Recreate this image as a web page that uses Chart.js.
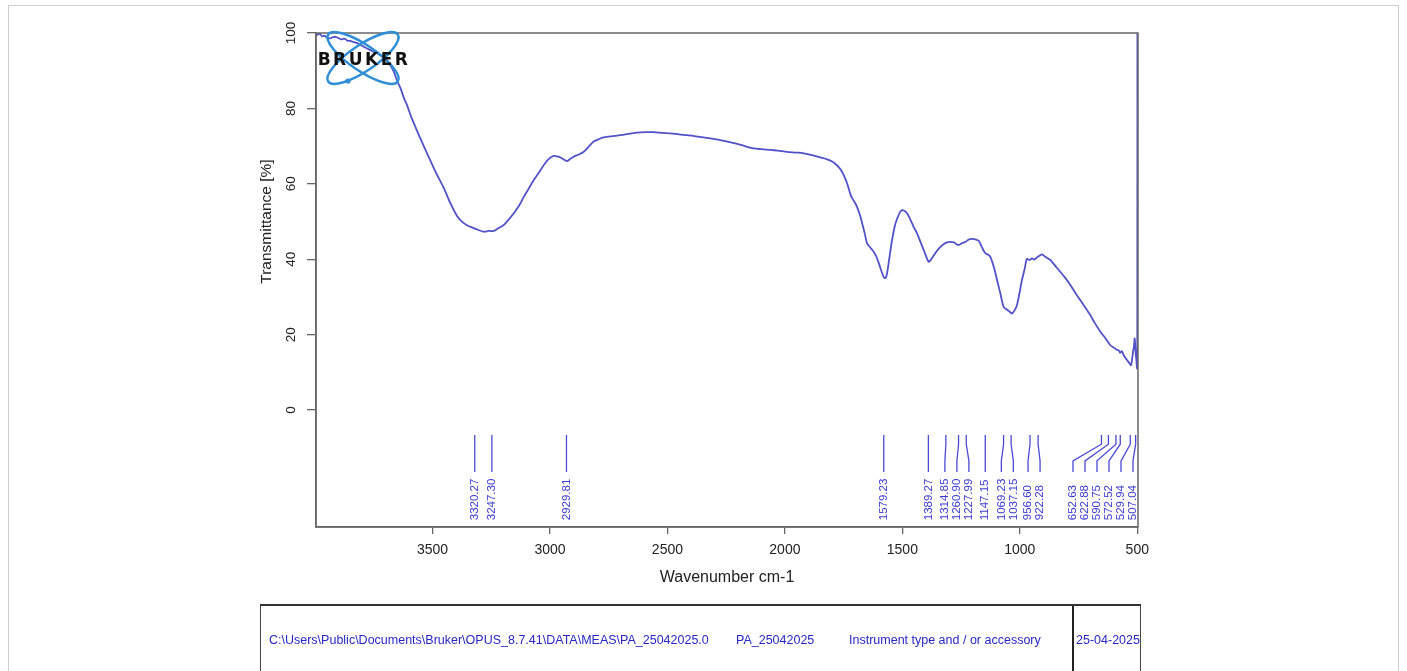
<!DOCTYPE html>
<html>
<head>
<meta charset="utf-8">
<script src="https://cdn.jsdelivr.net/npm/chart.js@4.4.1/dist/chart.umd.min.js"></script>
<style>
html, body { margin: 0; padding: 0; background: #fff; width: 1407px; height: 671px; overflow: hidden; }
#wrap { position: relative; width: 1407px; height: 671px; }
#chart { position: absolute; left: 0; top: 0; }
.frame { position: absolute; left: 8px; top: 5px; width: 1389px; height: 700px; border: 1px solid #cfcfcf; }
#logo { position: absolute; left: 310px; top: 28px; }
#logoText { position: absolute; left: 312px; top: 49px; width: 104px; text-align: center;
  font: bold 17px "DejaVu Sans", "Liberation Sans", sans-serif; letter-spacing: 2.5px; color: #111; }
.info { position: absolute; left: 260px; top: 604px; width: 879px; height: 100px;
  border-top: 2px solid #333; border-left: 1px solid #444; border-right: 1px solid #444; }
.info .sep { position: absolute; left: 811px; top: 0; height: 100px; border-left: 2px solid #222; }
.info span { position: absolute; top: 27px; font: 12.5px "Liberation Sans", Arial, sans-serif;
  color: #2727c4; white-space: nowrap; }
</style>
</head>
<body>
<div id="wrap">
  <div class="frame"></div>
  <canvas id="chart" width="1407" height="671"></canvas>
  <svg id="logo" width="110" height="62" viewBox="0 0 110 62">
    <ellipse cx="53" cy="30" rx="42" ry="13" fill="none" stroke="#2f8fd6" stroke-width="2.5" transform="rotate(34 53 30)"/>
    <ellipse cx="53" cy="30" rx="42" ry="13" fill="none" stroke="#2f8fd6" stroke-width="2.5" transform="rotate(-34 53 30)"/>
    <circle cx="38" cy="53" r="2.6" fill="#2f8fd6"/>
  </svg>
  <div id="logoText">BRUKER</div>
  <div class="info">
    <div class="sep"></div>
    <span style="left:8px">C:\Users\Public\Documents\Bruker\OPUS_8.7.41\DATA\MEAS\PA_25042025.0</span>
    <span style="left:475px">PA_25042025</span>
    <span style="left:588px">Instrument type and / or accessory</span>
    <span style="left:815px">25-04-2025</span>
  </div>
</div>
<script>
// spectrum (wavenumber cm-1 / transmittance %)
var wavenumbers = [3998, 3990, 3980, 3970, 3960, 3950, 3934, 3920, 3905, 3890, 3875, 3863, 3850, 3836, 3820, 3806,
  3790, 3778, 3760, 3735, 3715, 3693, 3679, 3666, 3650, 3636, 3622, 3608, 3594, 3581, 3565, 3551,
  3530, 3508, 3480, 3452, 3425, 3395, 3370, 3350, 3338, 3310, 3282, 3260, 3239, 3220, 3197, 3175,
  3154, 3130, 3111, 3090, 3069, 3045, 3026, 3005, 2984, 2970, 2955, 2940, 2927, 2912, 2899, 2880,
  2856, 2835, 2814, 2790, 2771, 2740, 2700, 2660, 2629, 2590, 2558, 2520, 2487, 2450, 2416, 2380,
  2346, 2310, 2274, 2240, 2203, 2170, 2133, 2100, 2062, 2030, 1991, 1955, 1920, 1885, 1849, 1820,
  1799, 1780, 1764, 1750, 1735, 1721, 1714, 1700, 1693, 1680, 1671, 1660, 1650, 1635, 1622, 1610,
  1600, 1590, 1579, 1572, 1565, 1555, 1544, 1532, 1522, 1510, 1501, 1490, 1480, 1465, 1452, 1437,
  1423, 1405, 1388, 1375, 1360, 1342, 1325, 1310, 1296, 1280, 1270, 1260, 1245, 1232, 1218, 1203,
  1190, 1175, 1160, 1147, 1135, 1126, 1110, 1097, 1083, 1069, 1050, 1040, 1033, 1022, 1012, 1000,
  991, 980, 970, 960, 948, 938, 927, 915, 906, 890, 870, 850, 828, 806, 785, 765,
  743, 720, 700, 680, 657, 635, 615, 598, 588, 580, 573, 566, 555, 544, 535, 527,
  522, 518, 514, 511, 507, 504, 501, 500, 499.5];
var transmittance = [99.7, 99.5, 99.8, 99.1, 99.3, 98.8, 98.6, 99.0, 98.8, 98.3, 98.5, 98.0, 97.9, 97.6, 97.3, 96.8,
  96.3, 95.9, 95.3, 94.6, 93.8, 92.6, 91.4, 89.9, 87.2, 85.3, 82.8, 80.8, 78.3, 76.3, 73.9, 71.9,
  69.0, 66.0, 62.3, 58.9, 55.0, 51.4, 49.7, 48.9, 48.6, 47.9, 47.3, 47.5, 47.5, 48.2, 49.1, 50.6,
  52.2, 54.4, 56.6, 58.8, 61.0, 63.2, 65.0, 66.6, 67.4, 67.3, 67.0, 66.4, 66.0, 66.7, 67.2, 67.7,
  68.5, 69.9, 71.2, 71.9, 72.3, 72.6, 72.9, 73.3, 73.6, 73.7, 73.7, 73.5, 73.4, 73.1, 72.9, 72.6,
  72.3, 72.0, 71.6, 71.1, 70.6, 70.0, 69.4, 69.2, 69.0, 68.8, 68.5, 68.3, 68.1, 67.6, 67.0, 66.5,
  65.9, 65.0, 63.9, 62.4, 60.1, 57.2, 56.2, 54.8, 53.9, 51.6, 49.5, 46.8, 44.2, 43.0, 42.0, 40.6,
  38.9, 37.0, 35.2, 35.0, 36.3, 40.5, 45.1, 48.9, 50.8, 52.5, 53.0, 52.8, 52.2, 50.4, 48.6, 46.8,
  44.6, 41.8, 39.3, 40.2, 41.6, 43.0, 44.0, 44.5, 44.6, 44.5, 44.0, 43.8, 44.3, 44.6, 45.2, 45.4,
  45.3, 44.9, 43.0, 41.6, 41.2, 40.7, 37.8, 34.5, 31.0, 27.4, 26.4, 25.9, 25.6, 26.5, 27.9, 31.5,
  34.5, 37.3, 40.1, 39.8, 40.2, 39.9, 40.5, 41.0, 41.3, 40.6, 39.8, 38.3, 36.7, 35.0, 33.2, 31.2,
  29.2, 27.1, 25.2, 23.0, 20.8, 19.0, 17.2, 16.5, 16.0, 15.9, 15.2, 15.6, 14.2, 13.3, 12.6, 11.9,
  13.5, 15.5, 17.0, 19.0, 15.0, 13.3, 11.0, 11.5, 100];

// picked peaks (cm-1)
var peaks = [3320.27, 3247.30, 2929.81, 1579.23, 1389.27, 1314.85, 1260.90, 1227.99, 1147.15,
  1069.23, 1037.15, 956.60, 922.28, 652.63, 622.88, 590.75, 572.52, 529.94, 507.04];

var xTicks = [3500, 3000, 2500, 2000, 1500, 1000, 500];
var yTicks = [0, 20, 40, 60, 80, 100];

var FONT = '"Liberation Sans", Arial, Helvetica, sans-serif';
var AXIS = '#676767';
var INK = '#222';

// spread labels so that they do not overlap, keeping groups centred on their peaks
function spreadLabels(pos, gap, maxX) {
  var groups = pos.map(function (p) { return { sum: p, n: 1, start: p }; });
  var changed = true;
  while (changed) {
    changed = false;
    groups.forEach(function (g) {
      g.start = g.sum / g.n - (g.n - 1) * gap / 2;
      if (g.start + (g.n - 1) * gap > maxX) g.start = maxX - (g.n - 1) * gap;
    });
    for (var i = 0; i + 1 < groups.length; i++) {
      var a = groups[i], b = groups[i + 1];
      if (a.start + a.n * gap > b.start) {
        a.sum += b.sum; a.n += b.n;
        groups.splice(i + 1, 1);
        changed = true;
        break;
      }
    }
  }
  var out = [];
  groups.forEach(function (g) {
    for (var k = 0; k < g.n; k++) out.push(g.start + k * gap);
  });
  return out;
}

var decorPlugin = {
  id: 'decor',
  afterDraw: function (chart) {
    var ctx = chart.ctx, x = chart.scales.x, y = chart.scales.y, area = chart.chartArea;
    ctx.save();
    // box round the plot
    ctx.strokeStyle = AXIS;
    ctx.lineWidth = 1.5;
    ctx.strokeRect(area.left, area.top, area.right - area.left, area.bottom - area.top);

    // y tick labels, turned like the original
    ctx.fillStyle = INK;
    ctx.font = '13.5px ' + FONT;
    ctx.textAlign = 'center';
    ctx.textBaseline = 'middle';
    yTicks.forEach(function (v) {
      ctx.save();
      ctx.translate(area.left - 25, y.getPixelForValue(v));
      ctx.rotate(-Math.PI / 2);
      ctx.fillText(String(v), 0, 0);
      ctx.restore();
    });
    // y title
    ctx.save();
    ctx.font = '15.5px ' + FONT;
    ctx.translate(area.left - 49, (y.getPixelForValue(0) + y.getPixelForValue(100)) / 2);
    ctx.rotate(-Math.PI / 2);
    ctx.fillText('Transmittance [%]', 0, 0);
    ctx.restore();

    // peak markers
    var yTop = y.getPixelForValue(-6.6), yBot = y.getPixelForValue(-16.4), yText = y.getPixelForValue(-29.2);
    var b1 = yTop + (yBot - yTop) * 0.25, b2 = yTop + (yBot - yTop) * 0.7;
    var px = peaks.map(function (p) { return x.getPixelForValue(p); });
    var lx = spreadLabels(px, 12, area.right - 5);
    ctx.strokeStyle = '#4a4ad6';
    ctx.lineWidth = 1.3;
    ctx.fillStyle = '#3a3ad0';
    ctx.font = '11.5px ' + FONT;
    ctx.textAlign = 'left';
    ctx.textBaseline = 'middle';
    peaks.forEach(function (p, i) {
      ctx.beginPath();
      ctx.moveTo(px[i], yTop);
      if (Math.abs(lx[i] - px[i]) > 0.5) {
        ctx.lineTo(px[i], b1);
        ctx.lineTo(lx[i], b2);
      }
      ctx.lineTo(lx[i], yBot);
      ctx.stroke();
      ctx.save();
      ctx.translate(lx[i], yText);
      ctx.rotate(-Math.PI / 2);
      ctx.fillText(p.toFixed(2), 0, 0);
      ctx.restore();
    });
    ctx.restore();
  }
};

var points = wavenumbers.map(function (w, i) { return { x: w, y: transmittance[i] }; });

new Chart(document.getElementById('chart').getContext('2d'), {
  type: 'line',
  data: {
    datasets: [{
      data: points,
      borderColor: '#5252c8',
      borderWidth: 1.8,
      pointRadius: 0,
      tension: 0.25,
      fill: false
    }]
  },
  options: {
    responsive: false,
    animation: false,
    events: [],
    layout: { padding: { left: 0, right: 269, top: 33, bottom: 84 } },
    plugins: { legend: { display: false }, tooltip: { enabled: false } },
    scales: {
      x: {
        type: 'linear',
        reverse: true,
        min: 497,
        max: 3996,
        afterBuildTicks: function (s) { s.ticks = xTicks.map(function (v) { return { value: v }; }); },
        ticks: { autoSkip: false, maxRotation: 0, color: INK, font: { size: 14, family: FONT }, padding: 8,
          callback: function (v) { return String(v); } },
        grid: { display: true, drawOnChartArea: false, drawTicks: true, tickLength: 7, color: AXIS, lineWidth: 1.3 },
        border: { display: true, color: AXIS, width: 1.5 },
        title: { display: true, text: 'Wavenumber cm-1', color: INK, font: { size: 16, family: FONT }, padding: 0 },
        afterFit: function (s) { s.height = 60; }
      },
      y: {
        min: -31,
        max: 100,
        afterBuildTicks: function (s) { s.ticks = yTicks.map(function (v) { return { value: v }; }); },
        ticks: { display: false },
        grid: { display: true, drawOnChartArea: false, drawTicks: true, tickLength: 9, color: AXIS, lineWidth: 1.3 },
        border: { display: true, color: AXIS, width: 1.5 },
        afterFit: function (s) { s.width = 316; }
      }
    }
  },
  plugins: [decorPlugin]
});
</script>
</body>
</html>
